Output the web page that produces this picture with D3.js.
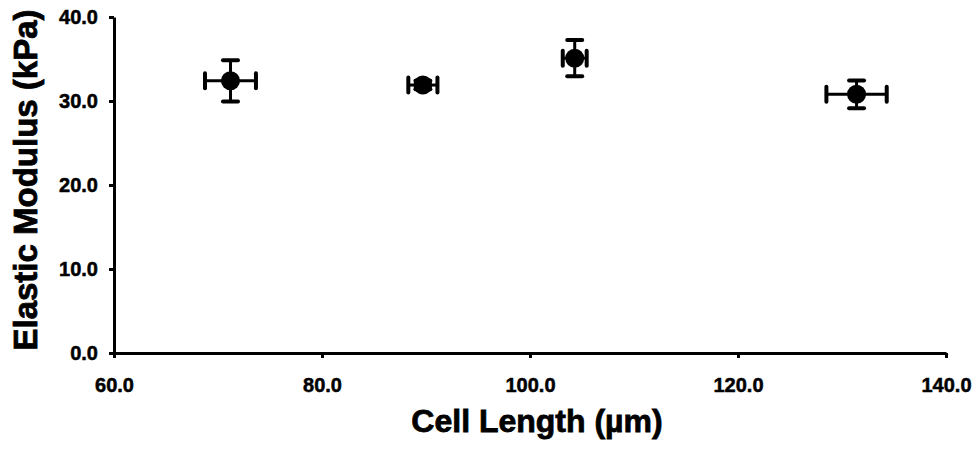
<!DOCTYPE html>
<html>
<head>
<meta charset="utf-8">
<script src="https://cdn.jsdelivr.net/npm/d3@7/dist/d3.min.js"></script>
<style>
  html, body { margin: 0; padding: 0; background: #fff; }
  svg { display: block; }
  text { font-family: "Liberation Sans", Arial, Helvetica, sans-serif; font-weight: bold; fill: #000; }
</style>
</head>
<body>
<svg id="chart" width="976" height="449"></svg>
<script>
// Cell length (µm) vs. elastic modulus (kPa), mean ± error in both directions
const cellLength = [71.2, 89.7, 104.3, 131.4];
const cellLengthErr = [2.45, 1.4, 1.15, 2.9];
const elasticModulus = [32.4, 31.9, 35.1, 30.8];
const elasticModulusErr = [2.45, 0.5, 2.15, 1.65];

const xTicks = [60, 80, 100, 120, 140];
const yTicks = [0, 10, 20, 30, 40];
const xTitle = "Cell Length (µm)";
const yTitle = "Elastic Modulus (kPa)";

const svg = d3.select("#chart");
const margin = { left: 114, right: 30, top: 17, bottom: 96 };
const W = 976, H = 449;

const x = d3.scaleLinear().domain([60, 140]).range([margin.left, W - margin.right]);
const y = d3.scaleLinear().domain([0, 40]).range([H - margin.bottom, margin.top]);

const fmt = d3.format(".1f");

// Axes
const xAxis = svg.append("g")
  .attr("transform", `translate(0,${y(0)})`)
  .call(d3.axisBottom(x).tickValues(xTicks).tickFormat(fmt).tickSize(5).tickSizeOuter(0).tickPadding(20));
const yAxis = svg.append("g")
  .attr("transform", `translate(${x(60)},0)`)
  .call(d3.axisLeft(y).tickValues(yTicks).tickFormat(fmt).tickSize(5).tickSizeOuter(0).tickPadding(11));

[xAxis, yAxis].forEach(g => {
  g.select(".domain").attr("stroke", "#000").attr("stroke-width", 3);
  g.selectAll(".tick line").attr("stroke", "#000").attr("stroke-width", 3);
  g.selectAll(".tick text").style("font-size", "20px").style("font-weight", "bold")
    .style("font-family", '"Liberation Sans", Arial, sans-serif')
    .attr("fill", "#000").attr("stroke", "#000").attr("stroke-width", 0.5);
});

// Axis titles
svg.append("text")
  .attr("x", 537).attr("y", 432)
  .attr("text-anchor", "middle")
  .attr("stroke", "#000").attr("stroke-width", 0.8)
  .style("font-size", "32px")
  .text(xTitle);

svg.append("text")
  .attr("transform", `translate(37,180) rotate(-90)`)
  .attr("text-anchor", "middle")
  .attr("stroke", "#000").attr("stroke-width", 0.8)
  .style("font-size", "33px")
  .text(yTitle);

// Data points with error bars
const pts = cellLength.map((v, i) => ({
  x: v, xe: cellLengthErr[i], y: elasticModulus[i], ye: elasticModulusErr[i]
}));
const capHalf = 7.5;
const g = svg.append("g");

pts.forEach(p => {
  const cx = x(p.x), cy = y(p.y);
  const x0 = x(p.x - p.xe), x1 = x(p.x + p.xe);
  const y0 = y(p.y - p.ye), y1 = y(p.y + p.ye);
  // horizontal whisker
  g.append("line").attr("x1", x0).attr("x2", x1).attr("y1", cy).attr("y2", cy)
    .attr("stroke", "#000").attr("stroke-width", 3);
  // vertical whisker
  g.append("line").attr("x1", cx).attr("x2", cx).attr("y1", y0).attr("y2", y1)
    .attr("stroke", "#000").attr("stroke-width", 3);
  // caps
  [x0, x1].forEach(xx => g.append("line")
    .attr("x1", xx).attr("x2", xx).attr("y1", cy - capHalf).attr("y2", cy + capHalf)
    .attr("stroke", "#000").attr("stroke-width", 4).attr("stroke-linecap", "round"));
  [y0, y1].forEach(yy => g.append("line")
    .attr("x1", cx - capHalf).attr("x2", cx + capHalf).attr("y1", yy).attr("y2", yy)
    .attr("stroke", "#000").attr("stroke-width", 4).attr("stroke-linecap", "round"));
  // marker
  g.append("circle").attr("cx", cx).attr("cy", cy).attr("r", 9.5).attr("fill", "#000");
});
</script>
</body>
</html>
